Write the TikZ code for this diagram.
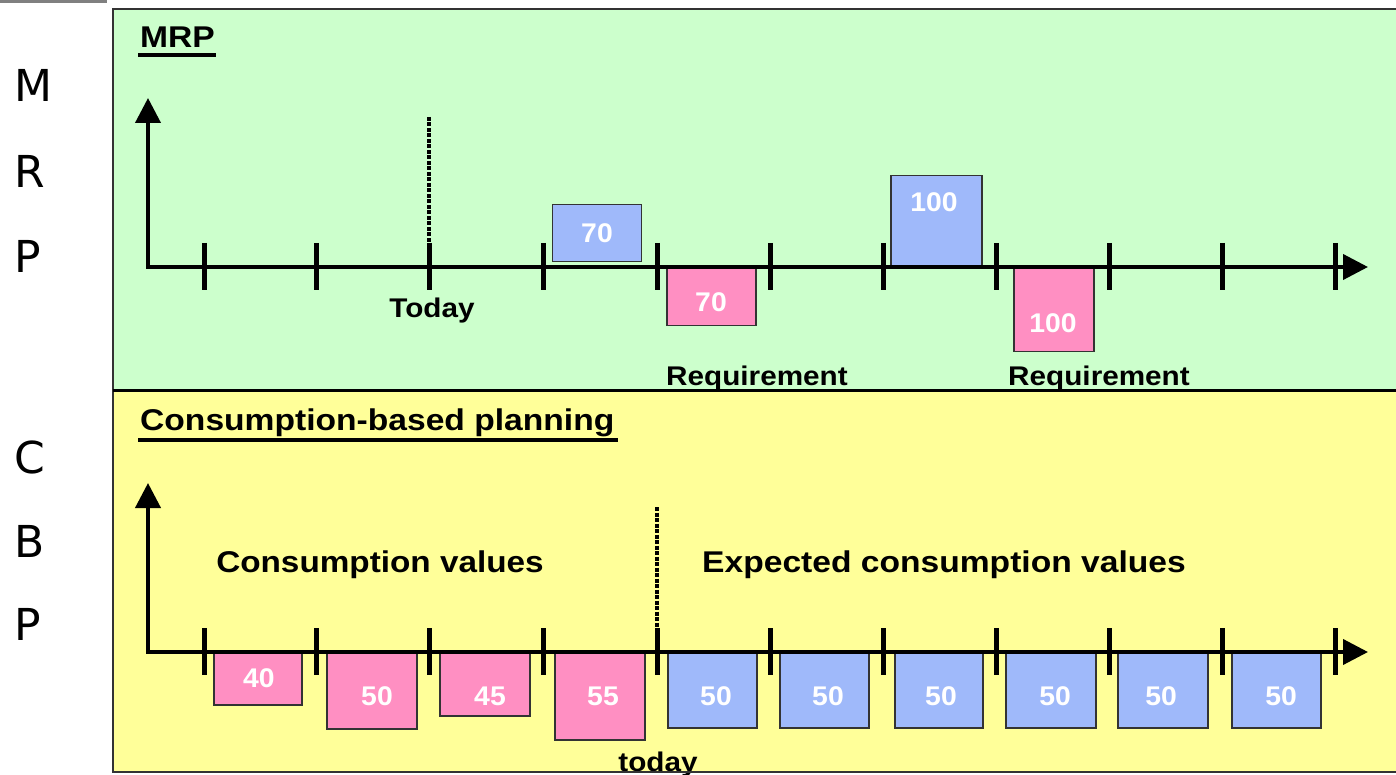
\documentclass[tikz,border=0pt]{standalone}
\usepackage{fontspec}
\setmainfont{Liberation Sans}
\newfontfamily\letterfont{DejaVu Sans}
\usetikzlibrary{arrows.meta}
\definecolor{panelgreen}{HTML}{CCFFCC}
\definecolor{panelyellow}{HTML}{FFFF99}
\definecolor{boxblue}{HTML}{9FB9FA}
\definecolor{boxpink}{HTML}{FF8FC2}
\definecolor{edgegray}{HTML}{333333}
\definecolor{bargray}{HTML}{808080}
\tikzset{
  panel/.style={draw=edgegray, line width=2pt},
  sidelabel/.style={font=\letterfont\fontsize{44}{48}\selectfont, anchor=base west, inner sep=0pt},
  titletext/.style={font=\bfseries\fontsize{30}{34}\selectfont, anchor=base west, inner sep=0pt},
  bigtext/.style={font=\bfseries\fontsize{30}{34}\selectfont, anchor=base, inner sep=0pt},
  lbltext/.style={font=\bfseries\fontsize{27}{30}\selectfont, anchor=base, inner sep=0pt},
  numtext/.style={font=\bfseries\fontsize{27}{30}\selectfont, text=white, anchor=base, inner sep=0pt},
  bluebox/.style={draw=edgegray, line width=1.5pt, fill=boxblue, inner sep=0pt},
  pinkbox/.style={draw=edgegray, line width=1.5pt, fill=boxpink, inner sep=0pt},
  axisline/.style={line width=4pt, -{Triangle[length=25pt,width=25pt]}},
  tickmark/.style={line width=5pt},
  todayline/.style={line width=4.5pt, dash pattern=on 4pt off 1.5pt},
  uline/.style={line width=4pt}
}
\newcommand{\sx}[1]{\scalebox{1.1}[1]{#1}}
\begin{document}
\begin{tikzpicture}[x=1pt,y=-1pt]
\useasboundingbox (0,0) rectangle (1396,775);
% gray bar
\fill[bargray] (0,0) rectangle (107,3);
% panels
\fill[panelgreen] (113,9) rectangle (1400,390);
\fill[panelyellow] (113,390) rectangle (1400,772);
% side letters
\node[sidelabel] (lm) at (14,102) {M};
\node[sidelabel] (lr) at (14,188) {R};
\node[sidelabel] (lp) at (14,273) {P};
\node[sidelabel] (lc) at (14,473) {C};
\node[sidelabel] (lb) at (14,557) {B};
\node[sidelabel] (lp2) at (14,640) {P};
% titles
\node[titletext] (tmrp) at (140,48) {\scalebox{1.12}[1]{MRP}};
\draw[uline] (138,55) -- (216,55);
\node[titletext] (tcbp) at (140,430) {\scalebox{1.12}[1]{Consumption-based planning}};
\draw[uline] (138,440) -- (618,440);
% ===== MRP boxes
\node[bluebox, minimum width=89pt, minimum height=57pt] (mb1) at (597,233) {};
\node[pinkbox, minimum width=89pt, minimum height=57pt] (mp1) at (711.5,297) {};
\node[bluebox, minimum width=91pt, minimum height=91pt] (mb2) at (936.5,221) {};
\node[pinkbox, minimum width=80pt, minimum height=83pt] (mp2) at (1054,310) {};
\node[numtext] (nmb1) at (597,243) {\scalebox{1.05}[1]{70}};
\node[numtext] (nmp1) at (711,312) {\scalebox{1.05}[1]{70}};
\node[numtext] (nmb2) at (934,212) {\scalebox{1.05}[1]{100}};
\node[numtext] (nmp2) at (1053,332) {\scalebox{1.05}[1]{100}};
% MRP axes
\coordinate (o1) at (148,267);
\coordinate (y1) at (148,98);
\coordinate (x1) at (1368,267);
\draw[todayline] (429,117) -- (429,243);
\foreach \t in {204,316,429,543,657,770,883,996,1109,1222,1335}
  \draw[tickmark] (\t,243) -- (\t,290);
\draw[axisline] ([yshift=2pt]o1) -- (y1);
\draw[axisline] ([xshift=-2pt]o1) -- (x1);
\node[lbltext] (ltoday) at (432,317) {\sx{Today}};
\node[lbltext] (lreq1) at (757,385) {\sx{Requirement}};
\node[lbltext] (lreq2) at (1099,385) {\sx{Requirement}};
% ===== CBP boxes
\node[pinkbox, minimum width=88pt, minimum height=53pt] (cp1) at (258,678.5) {};
\node[pinkbox, minimum width=90pt, minimum height=77pt] (cp2) at (372,690.5) {};
\node[pinkbox, minimum width=90pt, minimum height=64pt] (cp3) at (485,684) {};
\node[pinkbox, minimum width=90pt, minimum height=88pt] (cp4) at (600,696) {};
\node[numtext] (ncp1) at (259,687) {\scalebox{1.05}[1]{40}};
\node[numtext] (ncp2) at (377,705) {\scalebox{1.05}[1]{50}};
\node[numtext] (ncp3) at (490,705) {\scalebox{1.05}[1]{45}};
\node[numtext] (ncp4) at (603,705) {\scalebox{1.05}[1]{55}};
\node[bluebox, minimum width=89pt, minimum height=76pt] (cb1) at (712.5,690) {};
\node[bluebox, minimum width=89pt, minimum height=76pt] (cb2) at (824.5,690) {};
\node[bluebox, minimum width=88pt, minimum height=76pt] (cb3) at (939,690) {};
\node[bluebox, minimum width=90pt, minimum height=76pt] (cb4) at (1051,690) {};
\node[bluebox, minimum width=90pt, minimum height=76pt] (cb5) at (1163,690) {};
\node[bluebox, minimum width=89pt, minimum height=76pt] (cb6) at (1276.5,690) {};
\foreach \n/\xx in {1/716,2/828,3/941,4/1055,5/1161,6/1281}
  \node[numtext] (ncb\n) at (\xx,705) {\scalebox{1.05}[1]{50}};
% CBP axes
\coordinate (o2) at (148,652);
\coordinate (y2) at (148,483);
\coordinate (x2) at (1368,652);
\draw[todayline] (657,507) -- (657,628);
\foreach \t in {204,316,429,543,657,770,883,996,1109,1222,1335}
  \draw[tickmark] (\t,628) -- (\t,675);
\draw[axisline] ([yshift=2pt]o2) -- (y2);
\draw[axisline] ([xshift=-2pt]o2) -- (x2);
\node[bigtext] (lcv) at (380,572) {\scalebox{1.11}[1]{Consumption values}};
\node[bigtext] (lecv) at (944,572) {\scalebox{1.12}[1]{Expected consumption values}};
\node[lbltext] (ltoday2) at (658,771) {\sx{today}};
% panel borders
\draw[draw=edgegray, line width=2pt] (1400,9) -- (113,9) -- (113,772) -- (1400,772);
\draw[line width=3pt] (113,390) -- (1400,390);
\end{tikzpicture}
\end{document}
